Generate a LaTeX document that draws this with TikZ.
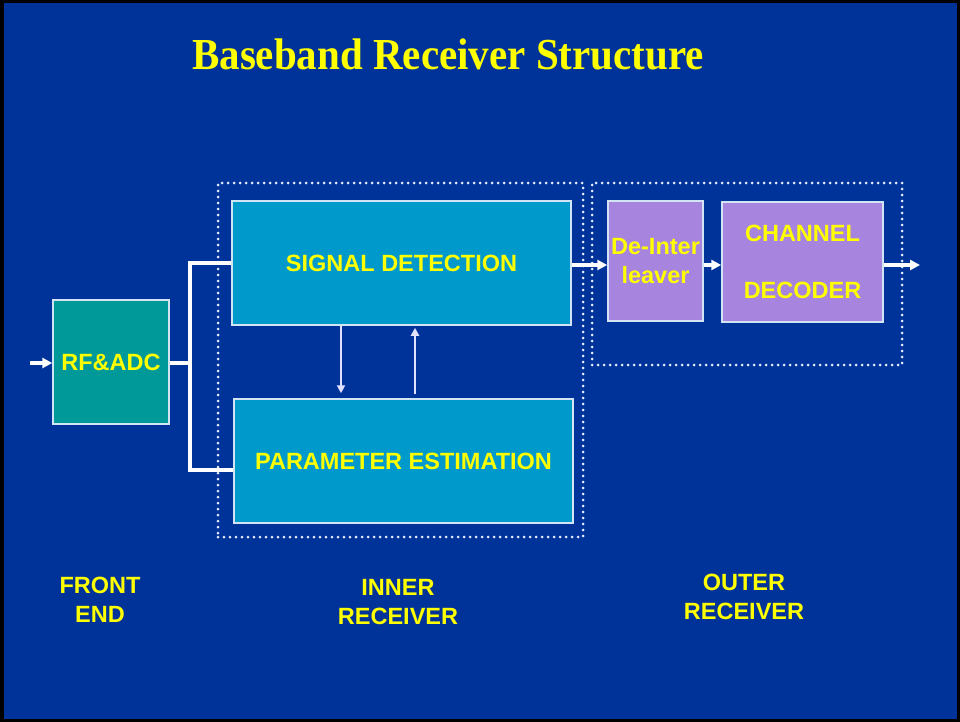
\documentclass[tikz,border=0pt]{standalone}
\usepackage{fontspec}
\setmainfont{Liberation Sans}
\newfontfamily\titlefont{Liberation Serif}
\usetikzlibrary{arrows.meta}
\definecolor{bgblue}{HTML}{003399}
\definecolor{teal1}{HTML}{009999}
\definecolor{cyan1}{HTML}{0099CC}
\definecolor{purp1}{HTML}{A784DD}
\definecolor{yel}{HTML}{FFFF00}
\definecolor{edge}{HTML}{D0E4F4}
\definecolor{dotc}{HTML}{E4ECFF}
\definecolor{lav}{HTML}{E0E0FF}
\tikzset{
  blk/.style={draw=edge, line width=1.5pt, inner sep=0pt, text=yel, align=center,
    font=\fontsize{23.5}{29}\selectfont\bfseries},
  lbl/.style={text=yel, align=center, inner sep=0pt, font=\fontsize{23.5}{29}\selectfont\bfseries},
  grp/.style={draw=dotc, line width=3pt, dash pattern=on 0pt off 6pt, line cap=round, inner sep=0pt},
  wline/.style={draw=white, line width=4pt},
  arr/.style={draw=white, line width=3.5pt, -{Triangle[length=10pt,width=10pt]}},
  varr/.style={draw=lav, line width=2pt, -{Triangle[length=8pt,width=8pt]}}
}
\begin{document}
\begin{tikzpicture}[x=1pt,y=-1pt]
\useasboundingbox (0,0) rectangle (960,722);
\fill[bgblue] (0,0) rectangle (960,722);
\draw[black, line width=3.5pt] (1.75,1.75) rectangle (958.25,720.25);

\node[text=yel, inner sep=0pt, yscale=1.08, transform shape, font=\titlefont\fontsize{41}{45}\selectfont\bfseries] (title) at (448,54) {Baseband Receiver Structure};

% group boxes
\node[grp, minimum width=365pt, minimum height=354pt] (inner) at (400.5,360) {};
\node[grp, minimum width=310pt, minimum height=182pt] (outer) at (747,274) {};

% blocks
\node[blk, fill=teal1, minimum width=116pt, minimum height=124pt] (rf) at (111,362) {RF\&ADC};
\node[blk, fill=cyan1, minimum width=339pt, minimum height=124pt] (sd) at (401.5,263) {SIGNAL DETECTION};
\node[blk, fill=cyan1, minimum width=339pt, minimum height=124pt] (pe) at (403.5,461) {PARAMETER ESTIMATION};
\node[blk, fill=purp1, minimum width=95pt, minimum height=120pt] (di) at (655.5,261) {De-Inter\\leaver};
\node[blk, fill=purp1, minimum width=161pt, minimum height=120pt] (cd) at (802.5,262) {CHANNEL\\[28pt]DECODER};

% labels
\node[lbl] (fe) at (100,600) {FRONT\\END};
\node[lbl] (ir) at (398,602) {INNER\\RECEIVER};
\node[lbl] (or) at (744,597) {OUTER\\RECEIVER};

% coordinates
\coordinate (in) at (30,363);
\coordinate (j) at (190,363);
\coordinate (jt) at (190,263);
\coordinate (jb) at (190,470);
\coordinate (ay) at (0,265);
\coordinate (out) at (920,265);
\coordinate (v1) at (341,0);
\coordinate (v2) at (415,0);

% connectors
\draw[arr] (in) -- (rf.west |- in);
\draw[wline] (rf.east |- j) -- (j);
\draw[wline] (sd.west |- jt) -- (jt) -- (jb) -- (pe.west |- jb);
\draw[arr] (sd.east |- ay) -- (di.west |- ay);
\draw[arr] (di.east |- ay) -- (cd.west |- ay);
\draw[arr] (cd.east |- ay) -- (out);
\draw[varr, shorten >=5pt] (sd.south -| v1) -- (pe.north -| v1);
\draw[varr, shorten <=4pt, shorten >=2pt] (pe.north -| v2) -- (sd.south -| v2);
\end{tikzpicture}
\end{document}
